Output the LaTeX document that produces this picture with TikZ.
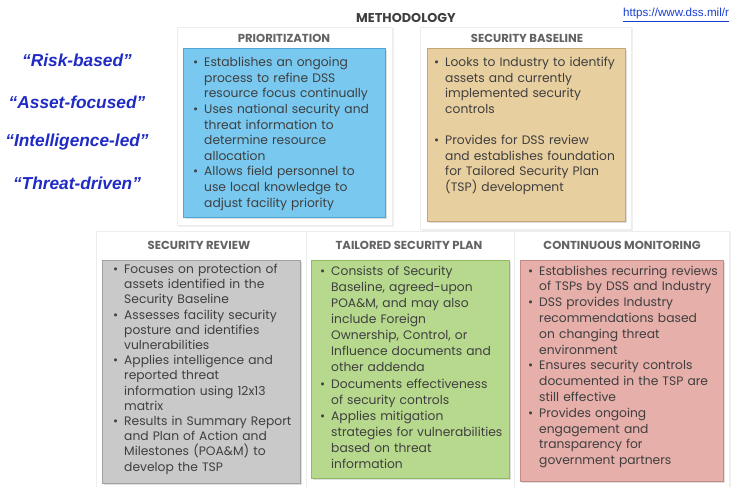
\documentclass[tikz,border=0pt]{standalone}
\usepackage{fontspec}
\setmainfont{Poppins}
\newfontfamily\quotefont{Liberation Sans}
\usetikzlibrary{shadows}

\definecolor{txtgray}{HTML}{3F3F3F}
\definecolor{headgray}{HTML}{636363}
\definecolor{quoteblue}{HTML}{1F2BC4}
\definecolor{linkblue}{HTML}{1A3FD0}
\definecolor{prioFill}{HTML}{78C8F0}
\definecolor{prioLine}{HTML}{4FA6D6}
\definecolor{baseFill}{HTML}{E8CFA0}
\definecolor{baseLine}{HTML}{C4A771}
\definecolor{revFill}{HTML}{C9C9C9}
\definecolor{revLine}{HTML}{A2A2A2}
\definecolor{tspFill}{HTML}{B7D98D}
\definecolor{tspLine}{HTML}{90B865}
\definecolor{monFill}{HTML}{E6AFAA}
\definecolor{monLine}{HTML}{C48A85}

% bullet paragraph with hanging indent; lines broken by hand with \newline
\newcommand{\bitem}[1]{\par\noindent\hangindent=11pt\hangafter=1\hbox to 11pt{\textbullet\hfil}#1\par}

\tikzset{
  panel/.style={fill=white, draw=black!7, line width=0.6pt,
    drop shadow={shadow xshift=1.5pt, shadow yshift=-1.5pt, opacity=0.12}},
  box/.style={draw=#1Line, fill=#1Fill, line width=1.4pt, anchor=north west,
    inner sep=0pt, drop shadow={shadow xshift=1.5pt, shadow yshift=-1.5pt, opacity=0.25}},
  body/.style={anchor=north west, inner sep=0pt, text=txtgray, align=left,
    text width=210pt, font=\fontsize{12.3}{15.6}\selectfont},
  head/.style={text=headgray, font=\fontsize{11.6}{13}\selectfont\bfseries},
  quote/.style={text=quoteblue, font=\quotefont\fontsize{17.3}{19}\selectfont\bfseries\itshape},
}

\begin{document}
\begin{tikzpicture}[x=1pt, y=-1pt]
\clip (0,0) rectangle (734,487);
\fill[white] (0,0) rectangle (734,487);

% light cards behind the five boxes
\fill[panel] (177,27) rectangle (392,225);
\fill[panel] (420,27) rectangle (631,229);
\fill[panel] (96,231) rectangle (306,487);
\fill[panel] (306,231) rectangle (514,487);
\fill[panel] (514,231) rectangle (729,487);

% heading and link
\node[text=txtgray, font=\fontsize{12.8}{14}\selectfont\bfseries] (method) at (406,18) {METHODOLOGY};
\node[anchor=west, inner sep=0pt, text=linkblue, font=\quotefont\fontsize{11.6}{13}\selectfont] (link) at (623,14) {https://www.dss.mil/r};
\draw[linkblue, line width=0.6pt] ([yshift=-1.2pt]link.south west) -- ([yshift=-1.2pt]link.south east);

% guiding phrases
\node[quote] (q1) at (77,60)  {“Risk-based”};
\node[quote] (q2) at (77,102) {“Asset-focused”};
\node[quote] (q3) at (77,142) {“Intelligence-led”};
\node[quote] (q4) at (77,183) {“Threat-driven”};

% box headings
\node[head] (hprio) at (284,38)  {PRIORITIZATION};
\node[head] (hbase) at (527,38)  {SECURITY BASELINE};
\node[head] (hrev)  at (199,245) {SECURITY REVIEW};
\node[head] (htsp)  at (409,245) {TAILORED SECURITY PLAN};
\node[head] (hmon)  at (622,245) {CONTINUOUS MONITORING};

% coloured boxes
\node[box=prio, minimum width=202pt, minimum height=169pt] (prio) at (183,48) {};
\node[box=base, minimum width=198pt, minimum height=173pt] (base) at (427,48) {};
\node[box=rev,  minimum width=198pt, minimum height=223pt] (rev)  at (102,260) {};
\node[box=tsp,  minimum width=198pt, minimum height=218pt] (tsp)  at (311,260) {};
\node[box=mon,  minimum width=203pt, minimum height=221pt] (mon)  at (520,260) {};

% box texts
\node[body] (tprio) at (193,51) {%
\bitem{Establishes an ongoing\newline process to refine DSS\newline resource focus continually}%
\bitem{Uses national security and\newline threat information to\newline determine resource\newline allocation}%
\bitem{Allows field personnel to\newline use local knowledge to\newline adjust facility priority}};

\node[body] (tbase) at (434,51) {%
\bitem{Looks to Industry to identify\newline assets and currently\newline implemented security\newline controls}%
\vspace{15.6pt}%
\bitem{Provides for DSS review\newline and establishes foundation\newline for Tailored Security Plan\newline (TSP) development}};

\node[body, font=\fontsize{12.3}{15.2}\selectfont] (trev) at (113,258) {%
\bitem{Focuses on protection of\newline assets identified in the\newline Security Baseline}%
\bitem{Assesses facility security\newline posture and identifies\newline vulnerabilities}%
\bitem{Applies intelligence and\newline reported threat\newline information using 12x13\newline matrix}%
\bitem{Results in Summary Report\newline and Plan of Action and\newline Milestones (POA\&M) to\newline develop the TSP}};

\node[body, font=\fontsize{12.3}{16.1}\selectfont] (ttsp) at (320,259) {%
\bitem{Consists of Security\newline Baseline, agreed-upon\newline POA\&M, and may also\newline include Foreign\newline Ownership, Control, or\newline Influence documents and\newline other addenda}%
\bitem{Documents effectiveness\newline of security controls}%
\bitem{Applies mitigation\newline strategies for vulnerabilities\newline based on threat\newline information}};

\node[body, font=\fontsize{12.3}{15.8}\selectfont] (tmon) at (528,259) {%
\bitem{Establishes recurring reviews\newline of TSPs by DSS and Industry}%
\bitem{DSS provides Industry\newline recommendations based\newline on changing threat\newline environment}%
\bitem{Ensures security controls\newline documented in the TSP are\newline still effective}%
\bitem{Provides ongoing\newline engagement and\newline transparency for\newline government partners}};
\end{tikzpicture}
\end{document}
